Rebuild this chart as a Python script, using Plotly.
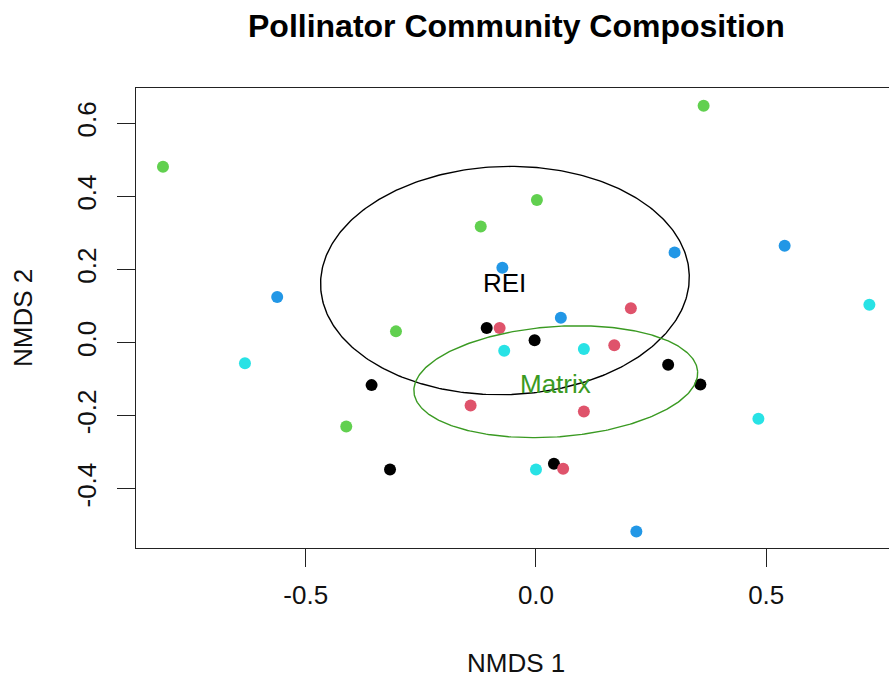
import numpy as np
import plotly.graph_objects as go

# ---- data (NMDS scores) ----
black_x = [-0.107, -0.003, -0.357, -0.317, 0.287, 0.357, 0.039]
black_y = [0.040, 0.007, -0.116, -0.347, -0.060, -0.114, -0.331]

red_x = [-0.079, -0.142, 0.206, 0.170, 0.104, 0.059]
red_y = [0.040, -0.172, 0.094, -0.007, -0.188, -0.345]

green_x = [-0.810, 0.002, -0.120, 0.364, -0.304, -0.412]
green_y = [0.481, 0.390, 0.318, 0.648, 0.031, -0.229]

blue_x = [-0.562, -0.073, 0.301, 0.540, 0.054, 0.218]
blue_y = [0.125, 0.205, 0.247, 0.265, 0.068, -0.516]

cyan_x = [0.724, -0.632, -0.069, 0.000, 0.104, 0.483]
cyan_y = [0.104, -0.056, -0.022, -0.347, -0.017, -0.208]

# ellipse definitions: centre, major semi-axis vector, minor semi-axis vector (data units)
ellipse_labels = ["REI", "Matrix"]
ellipse_centers = [(-0.0674, 0.170), (0.0430, -0.1066)]
ellipse_u = [(0.4003, 0.0149), (0.3081, 0.0283)]
ellipse_v = [(-0.0074, 0.3119), (-0.00875, 0.1504)]
ellipse_colors = ["#000000", "#3A9A22"]

x_ticks = [-0.5, 0.0, 0.5]
y_ticks = [-0.4, -0.2, 0.0, 0.2, 0.4, 0.6]

FONT = "Liberation Sans, Arial, Helvetica, sans-serif"

fig = go.Figure()

groups = [
    (black_x, black_y, "#000000"),
    (red_x, red_y, "#DF536B"),
    (green_x, green_y, "#61D04F"),
    (blue_x, blue_y, "#2297E6"),
    (cyan_x, cyan_y, "#28E2E5"),
]
for gx, gy, col in groups:
    fig.add_trace(go.Scatter(
        x=gx, y=gy, mode="markers",
        marker=dict(color=col, size=12, line=dict(width=0)),
        showlegend=False, hoverinfo="x+y"))

annotations = []
t = np.linspace(0, 2 * np.pi, 361)
for lab, c, u, v, col in zip(ellipse_labels, ellipse_centers, ellipse_u, ellipse_v, ellipse_colors):
    ex = c[0] + u[0] * np.cos(t) + v[0] * np.sin(t)
    ey = c[1] + u[1] * np.cos(t) + v[1] * np.sin(t)
    fig.add_trace(go.Scatter(x=ex, y=ey, mode="lines",
                             line=dict(color=col, width=1.4),
                             showlegend=False, hoverinfo="skip"))
    annotations.append(dict(text=lab, x=c[0], y=c[1], xref="x", yref="y",
                            xanchor="center", yanchor="middle", yshift=-2,
                            showarrow=False,
                            font=dict(family=FONT, size=26, color=col)))

# plot area in pixels: x 136..889, y 88..548
L, R, T, B = 136, 889, 88, 548
W, H = R - L, B - T

def px(xp):
    return (xp - L) / W

def py(yp):
    return (B - yp) / H

annotations += [
    dict(text="<b>Pollinator Community Composition</b>", xref="paper", yref="paper",
         x=px(516), y=py(26), xanchor="center", yanchor="middle", showarrow=False,
         font=dict(family=FONT, size=32, color="black")),
    dict(text="NMDS 1", xref="paper", yref="paper",
         x=px(516), y=py(663), xanchor="center", yanchor="middle", showarrow=False,
         font=dict(family=FONT, size=26, color="#111")),
    dict(text="NMDS 2", xref="paper", yref="paper",
         x=px(23), y=py(318), xanchor="center", yanchor="middle", showarrow=False,
         textangle=-90, font=dict(family=FONT, size=26, color="#111")),
]

fig.update_layout(
    width=889, height=678,
    margin=dict(l=L, r=889 - R, t=T, b=678 - B, pad=0),
    paper_bgcolor="white", plot_bgcolor="white",
    font=dict(family=FONT, size=26, color="black"),
    xaxis=dict(range=[-0.8686, 0.7666], tickvals=x_ticks,
               ticktext=[f"{v:.1f}" for v in x_ticks],
               showgrid=False, zeroline=False, showline=True, mirror=True,
               linecolor="#222", linewidth=1.4,
               ticks="outside", ticklen=18, tickwidth=1.2, tickcolor="#222",
               ticklabelstandoff=6,
               tickfont=dict(family=FONT, size=26, color="#111")),
    yaxis=dict(range=[-0.5614, 0.6965], tickvals=y_ticks,
               ticktext=[f"{v:.1f}" for v in y_ticks],
               showgrid=False, zeroline=False, showline=True,
               linecolor="#222", linewidth=1.4,
               ticks="outside", ticklen=18, tickwidth=1.2, tickcolor="#222",
               tickangle=-90, ticklabelstandoff=10,
               tickfont=dict(family=FONT, size=26, color="#111")),
    annotations=annotations,
)

fig.write_html("out.html")
